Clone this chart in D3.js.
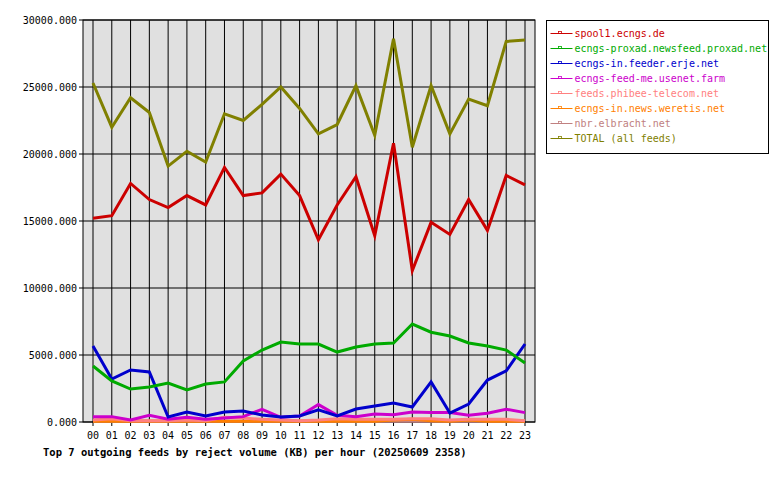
<!DOCTYPE html>
<html>
<head>
<meta charset="utf-8">
<script src="https://cdn.jsdelivr.net/npm/d3@7"></script>
<style>
	body { margin: 0; background: white; }
	text { font-family: "DejaVu Sans Mono", monospace; }
</style>
</head>
<body>
<svg id="chart" width="780" height="480"></svg>
<script>
// hours on the x axis
var hours = ["00","01","02","03","04","05","06","07","08","09","10","11","12","13","14","15","16","17","18","19","20","21","22","23"]
var feedNames = ["spool1.ecngs.de", "ecngs-proxad.newsfeed.proxad.net", "ecngs-in.feeder.erje.net",
	"ecngs-feed-me.usenet.farm", "feeds.phibee-telecom.net", "ecngs-in.news.weretis.net",
	"nbr.elbracht.net", "TOTAL (all feeds)"]
var feedColors = ["#cc0000", "#00aa00", "#0000cc", "#cc00cc", "#ff8080", "#ff8000", "#c08080", "#808000"]

var spool1 = [15200,15400,17800,16600,16000,16900,16200,19000,16900,17100,18500,16900,13600,16200,18300,13900,20800,11300,14900,14000,16600,14300,18400,17700]
var proxad = [4180,3060,2460,2610,2910,2390,2830,2990,4550,5370,5970,5820,5820,5220,5600,5820,5900,7310,6700,6420,5900,5670,5370,4400]
var erje = [5670,3210,3880,3730,370,750,450,750,820,520,370,450,900,450,970,1200,1420,1120,2990,670,1340,3130,3810,5820]
var usenetFarm = [400,400,150,500,200,350,200,300,400,950,350,450,1300,500,400,600,550,750,700,700,500,650,950,700]
var phibee = [150,250,100,100,100,150,100,350,300,200,150,100,150,250,200,200,200,250,250,150,200,200,200,100]
var weretis = [50,50,50,50,50,50,50,50,50,50,50,50,50,50,50,50,150,200,100,50,150,50,50,50]
var elbracht = [50,50,50,50,50,50,50,50,50,50,50,50,50,50,50,50,50,50,50,50,50,50,50,50]
var total = [25300,22000,24200,23100,19100,20200,19400,23000,22500,23700,25000,23400,21500,22200,25100,21400,28600,20500,25100,21500,24100,23600,28400,28500]
var yTicks = [0,5000,10000,15000,20000,25000,30000]

var series = [spool1, proxad, erje, usenetFarm, phibee, weretis, elbracht, total]

var svg = d3.select("#chart")
var pLeft = 83, pRight = 535, pTop = 20, pBottom = 422

var x = d3.scalePoint().domain(hours).range([93, 525])
var y = d3.scaleLinear().domain([0, 30000]).range([pBottom, pTop])

svg.append("rect").attr("x", pLeft).attr("y", pTop).attr("width", pRight-pLeft).attr("height", pBottom-pTop)
	.attr("fill", "#e0e0e0").attr("stroke", "black")

// vertical grid at each hour
svg.selectAll(".vg").data(hours).enter().append("line")
	.attr("x1", d => x(d)).attr("x2", d => x(d)).attr("y1", pTop).attr("y2", pBottom + 4)
	.attr("stroke", "black").attr("stroke-width", 1)
svg.selectAll(".hg").data(yTicks).enter().append("line")
	.attr("x1", pLeft - 4).attr("x2", pRight).attr("y1", d => y(d)).attr("y2", d => y(d))
	.attr("stroke", "black").attr("stroke-width", 1)

svg.selectAll(".yl").data(yTicks).enter().append("text")
	.attr("x", pLeft - 6).attr("y", d => y(d) + 4).attr("text-anchor", "end")
	.attr("font-size", 10).text(d => d + ".000")
svg.selectAll(".xl").data(hours).enter().append("text")
	.attr("x", d => x(d)).attr("y", pBottom + 17).attr("text-anchor", "middle")
	.attr("font-size", 10).text(d => d)

var line = d3.line().x((d,i) => x(hours[i])).y(d => y(d))
// draw small feeds first so big ones sit on top
for (var k = series.length - 1; k >= 0; k--) {
	svg.append("path").datum(series[k]).attr("d", line).attr("fill", "none")
		.attr("stroke", feedColors[k]).attr("stroke-width", 3)
}

svg.append("text").attr("x", 43).attr("y", 456).attr("font-size", 10.5).attr("font-weight", "bold")
	.text("Top 7 outgoing feeds by reject volume (KB) per hour (20250609 2358)")

// legend
svg.append("rect").attr("x", 546.5).attr("y", 20.5).attr("width", 222).attr("height", 133)
	.attr("fill", "white").attr("stroke", "black")
var lg = svg.selectAll(".lg").data(feedNames).enter().append("g")
	.attr("transform", (d,i) => "translate(550.5," + (33.5 + i*15) + ")")
lg.append("line").attr("x1", 0).attr("x2", 22).attr("stroke", (d,i) => feedColors[i])
lg.append("rect").attr("x", 8).attr("y", -2).attr("width", 3).attr("height", 2)
	.attr("fill", "none").attr("stroke", (d,i) => feedColors[i]).attr("stroke-width", 0.8)
lg.append("text").attr("x", 24).attr("y", 3.5).attr("font-size", 10)
	.attr("fill", (d,i) => feedColors[i]).text(d => d)
</script>
</body>
</html>
